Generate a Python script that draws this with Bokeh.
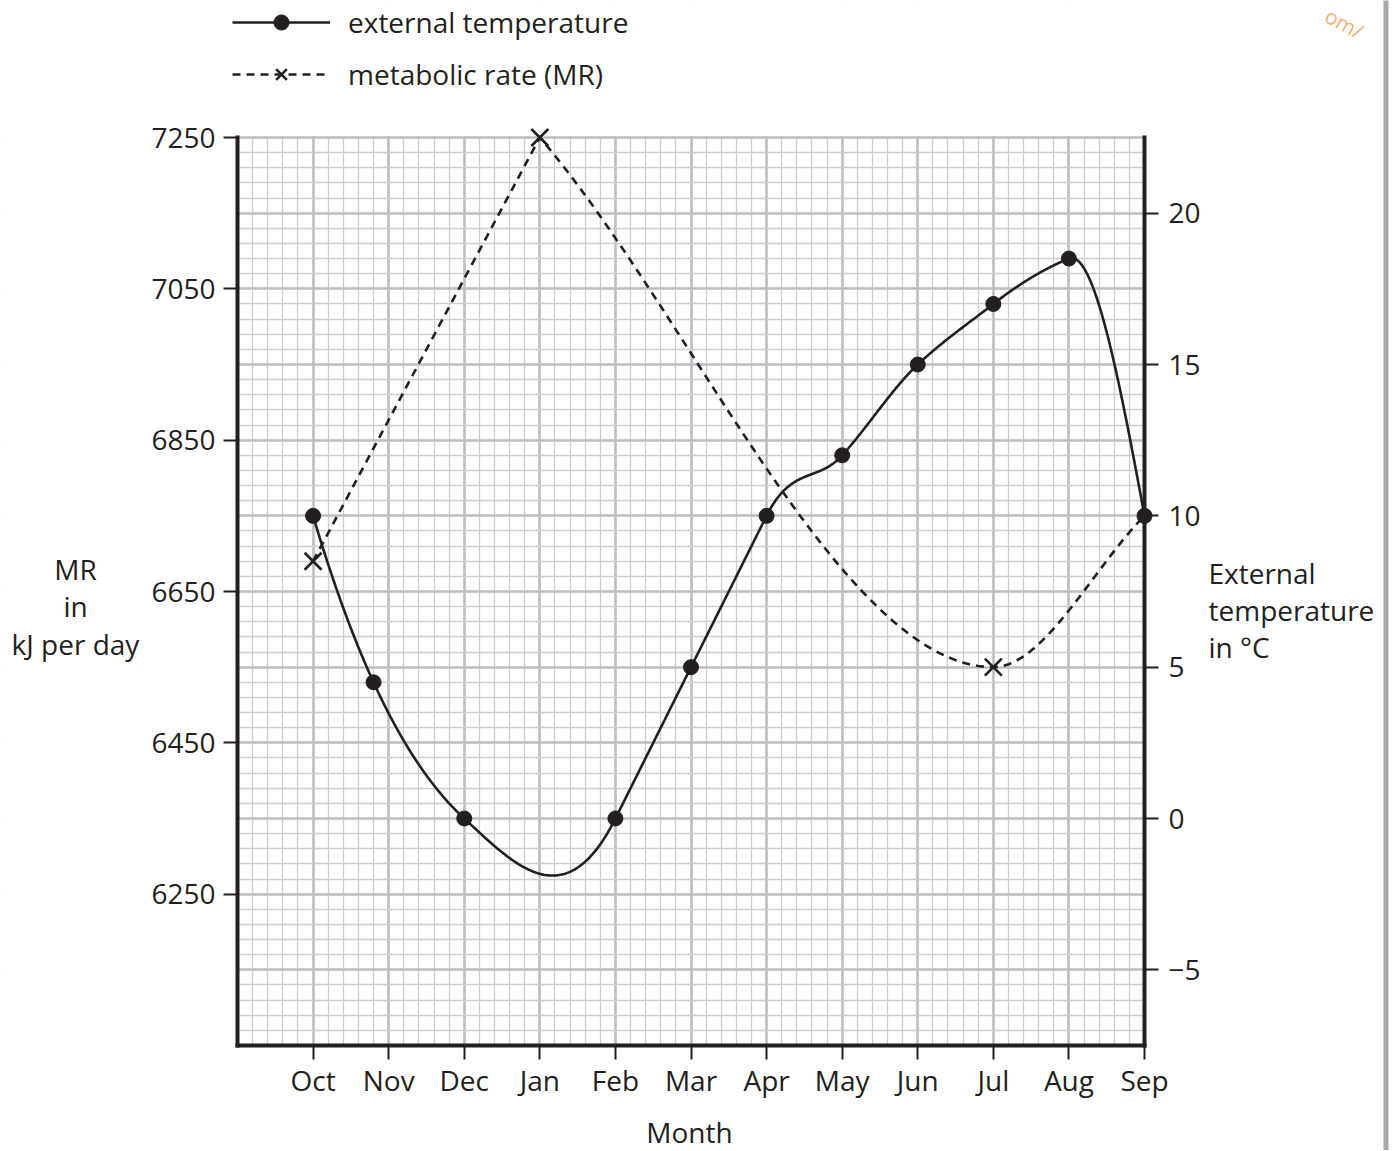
import numpy as np
from bokeh.plotting import figure
from bokeh.models import (Range1d, LinearAxis, FixedTicker, Legend, LegendItem,
                          Label, BoxAnnotation)
from bokeh.embed import file_html
from bokeh.resources import INLINE

# ---------------- data ----------------
months = ["Oct", "Nov", "Dec", "Jan", "Feb", "Mar", "Apr", "May", "Jun", "Jul", "Aug", "Sep"]
month_pos = list(range(1, 13))

# external temperature (degC) -- the Nov reading sits before the Nov gridline
temp_x = [1, 1.8, 3, 5, 6, 7, 8, 9, 10, 11, 12]
temp_vals = [10, 4.5, 0, 0, 5, 10, 12, 15, 17, 18.5, 10]

# metabolic rate (kJ per day), measured points (crosses)
mr_x = [1, 4, 10]
mr_vals = [6690, 7250, 6550]
# end of the drawn MR curve at Sep
mr_end_x = 12
mr_end_val = 6750

mr_ticks = [6250, 6450, 6650, 6850, 7050, 7250]
temp_ticks = [-5, 0, 5, 10, 15, 20]
temp_tick_labels = ["\u22125", "0", "5", "10", "15", "20"]

MR_MIN, MR_MAX = 6050, 7250
T_MIN, T_MAX = -7.5, 22.5

INK = "#231f20"
FONT = "Open Sans"

# ---------------- curve helpers ----------------
def hermite(xs, ys, ms, n=60):
    ox, oy = [], []
    for i in range(len(xs) - 1):
        h = xs[i + 1] - xs[i]
        t = np.linspace(0, 1, n)
        h00 = 2 * t ** 3 - 3 * t ** 2 + 1; h10 = t ** 3 - 2 * t ** 2 + t
        h01 = -2 * t ** 3 + 3 * t ** 2; h11 = t ** 3 - t ** 2
        ox.extend(xs[i] + t * h)
        oy.extend(h00 * ys[i] + h10 * h * ms[i] + h01 * ys[i + 1] + h11 * h * ms[i + 1])
    return ox, oy

def akima(xs, ys, n=60):
    xs = np.asarray(xs, float); ys = np.asarray(ys, float)
    d = list(np.diff(ys) / np.diff(xs))
    d = [3 * d[0] - 2 * d[1], 2 * d[0] - d[1]] + d + [2 * d[-1] - d[-2], 3 * d[-1] - 2 * d[-2]]
    m = []
    for i in range(len(xs)):
        dm2, dm1, d0, dp1 = d[i], d[i + 1], d[i + 2], d[i + 3]
        w1, w2 = abs(dp1 - d0), abs(dm1 - dm2)
        m.append((dm1 + d0) / 2 if w1 + w2 == 0 else (w1 * dm1 + w2 * d0) / (w1 + w2))
    return hermite(xs, ys, m, n)

def pchip_simple(xs, ys, n=60):
    xs = np.asarray(xs, float); ys = np.asarray(ys, float)
    d = np.diff(ys) / np.diff(xs)
    m = np.zeros(len(xs)); m[0] = d[0]; m[-1] = d[-1]
    for i in range(1, len(xs) - 1):
        m[i] = 0.0 if d[i - 1] * d[i] <= 0 else 2.0 / (1.0 / d[i - 1] + 1.0 / d[i])
    return hermite(xs, ys, m, n)

tcx, tcy = akima(temp_x, temp_vals)
# MR curve: straight rise to the sharp Jan peak, then a smooth fall and rise
peak = int(np.argmax(mr_vals))
ax_, ay_ = pchip_simple(mr_x[:peak + 1], mr_vals[:peak + 1])
bx_, by_ = pchip_simple(mr_x[peak:] + [mr_end_x], mr_vals[peak:] + [mr_end_val])
mcx, mcy = ax_ + bx_, ay_ + by_

# ---------------- geometry (canvas pixels) ----------------
W, H = 1394, 1150
PX_L, PX_R = 237, 1144      # x = 0 and x = 12
PX_T, PX_B = 137, 1045      # MR_MAX and MR_MIN (from canvas top)
ppx = (PX_R - PX_L) / 12.0
ppy = (PX_B - PX_T) / (MR_MAX - MR_MIN)
x0, x1 = -PX_L / ppx, (W - PX_L) / ppx
y1 = MR_MAX + PX_T / ppy
y0 = MR_MIN - (H - PX_B) / ppy
per_deg = (MR_MAX - MR_MIN) / (T_MAX - T_MIN)
to_t = lambda v: T_MIN + (v - MR_MIN) / per_deg

p = figure(width=W, height=H, output_backend="svg", toolbar_location=None,
           x_range=Range1d(x0, x1), y_range=Range1d(y0, y1),
           min_border=0, min_border_left=0, min_border_right=0,
           min_border_top=0, min_border_bottom=0,
           background_fill_color="white", border_fill_color="white")
p.outline_line_color = None
p.title.visible = False
p.extra_y_ranges = {"temp": Range1d(to_t(y0), to_t(y1))}

# grid (graph paper)
gx_major = np.arange(0, 13, 1.0)
gx_minor = np.round(np.arange(0, 12.001, 0.2), 3)
gy_major = np.arange(MR_MIN, MR_MAX + 1, 100.0)
gy_minor = np.arange(MR_MIN, MR_MAX + 1, 20.0)
p.xgrid.ticker = FixedTicker(ticks=list(gx_major), minor_ticks=list(gx_minor))
p.ygrid.ticker = FixedTicker(ticks=list(gy_major), minor_ticks=list(gy_minor))
for g in (p.xgrid[0], p.ygrid[0]):
    g.grid_line_color = "#bfbfc3"
    g.grid_line_width = 2.6
    g.minor_grid_line_color = "#cdcdd1"
    g.minor_grid_line_width = 1.3

# white masks around the sheet of graph paper
BIG = 1e5
for kw in (dict(bottom=MR_MAX + 2, top=BIG, left=-BIG, right=BIG),
           dict(bottom=-BIG, top=MR_MIN, left=-BIG, right=BIG),
           dict(bottom=-BIG, top=BIG, left=-BIG, right=0),
           dict(bottom=-BIG, top=BIG, left=12, right=BIG)):
    p.add_layout(BoxAnnotation(fill_color="white", fill_alpha=1, line_color=None,
                               level="underlay", **kw))

def style_axis(ax):
    ax.axis_line_color = INK
    ax.axis_line_width = 4
    ax.axis_line_cap = "square"
    ax.major_tick_line_color = INK
    ax.major_tick_line_width = 2
    ax.major_tick_in = 0
    ax.major_tick_out = 14
    ax.minor_tick_line_color = None
    ax.major_label_text_font = FONT
    ax.major_label_text_font_size = "28px"
    ax.major_label_text_color = INK

# bottom axis
xa = p.xaxis[0]
xa.fixed_location = MR_MIN
xa.ticker = FixedTicker(ticks=month_pos)
xa.major_label_overrides = {float(k): v for k, v in zip(month_pos, months)}
xa.bounds = (0, 12)
style_axis(xa)
xa.major_label_standoff = 1

# left axis
ya = p.yaxis[0]
ya.fixed_location = 0
ya.ticker = FixedTicker(ticks=mr_ticks)
ya.bounds = (MR_MIN, MR_MAX)
style_axis(ya)
ya.major_label_standoff = 8

# right axis
ra = LinearAxis(y_range_name="temp", fixed_location=12)
ra.ticker = FixedTicker(ticks=temp_ticks)
ra.major_label_overrides = {float(k): v for k, v in zip(temp_ticks, temp_tick_labels)}
ra.bounds = (T_MIN, T_MAX)
style_axis(ra)
ra.major_label_standoff = 10
p.add_layout(ra, "right")

# data
t_line = p.line(tcx, tcy, y_range_name="temp", line_color=INK, line_width=2.6)
t_dots = p.scatter(temp_x, temp_vals, y_range_name="temp", marker="circle", size=15,
                   fill_color=INK, line_color=INK)
m_line = p.line(mcx, mcy, line_color=INK, line_width=2.6, line_dash="8 6")
m_x = p.scatter(mr_x, mr_vals, marker="x", size=24, line_color=INK, line_width=2.6)

legend = Legend(items=[LegendItem(label="external temperature", renderers=[t_line, t_dots]),
                       LegendItem(label="metabolic rate (MR)", renderers=[m_line, m_x])],
                location=(232, H - 93), glyph_width=98, glyph_height=38, label_height=38,
                label_standoff=18, spacing=14, padding=0, margin=0,
                label_text_font=FONT, label_text_font_size="28px", label_text_color=INK,
                background_fill_alpha=0, border_line_color=None)
p.add_layout(legend)

def lab(text, x, y, align="left", base="alphabetic", size="28px", color=INK, angle=0, alpha=1.0):
    p.add_layout(Label(x=x, y=y, x_units="screen", y_units="screen", text=text,
                       text_font=FONT, text_font_size=size, text_color=color,
                       text_align=align, text_baseline=base, angle=angle, text_alpha=alpha))

# left axis title
lab("MR", 75, 582, align="center")
lab("in", 75, 545, align="center")
lab("kJ per day", 75, 507, align="center")
# right axis title
lab("External", 1208, 578)
lab("temperature", 1208, 541)
lab("in \u00b0C", 1208, 504)
# x title
lab("Month", 689, 19, align="center")
# watermark fragment
lab("om/", 1333, H - 1, base="top", size="21px", color="#f5a25e", angle=-0.5, alpha=0.85)

# grey edge of the scanned page
p.add_layout(BoxAnnotation(left=1383, right=1388, left_units="screen", right_units="screen",
                           bottom=-BIG, top=BIG, fill_color="#a9a9ad", fill_alpha=1,
                           line_color=None))

open("out.html", "w").write(file_html(p, INLINE))
